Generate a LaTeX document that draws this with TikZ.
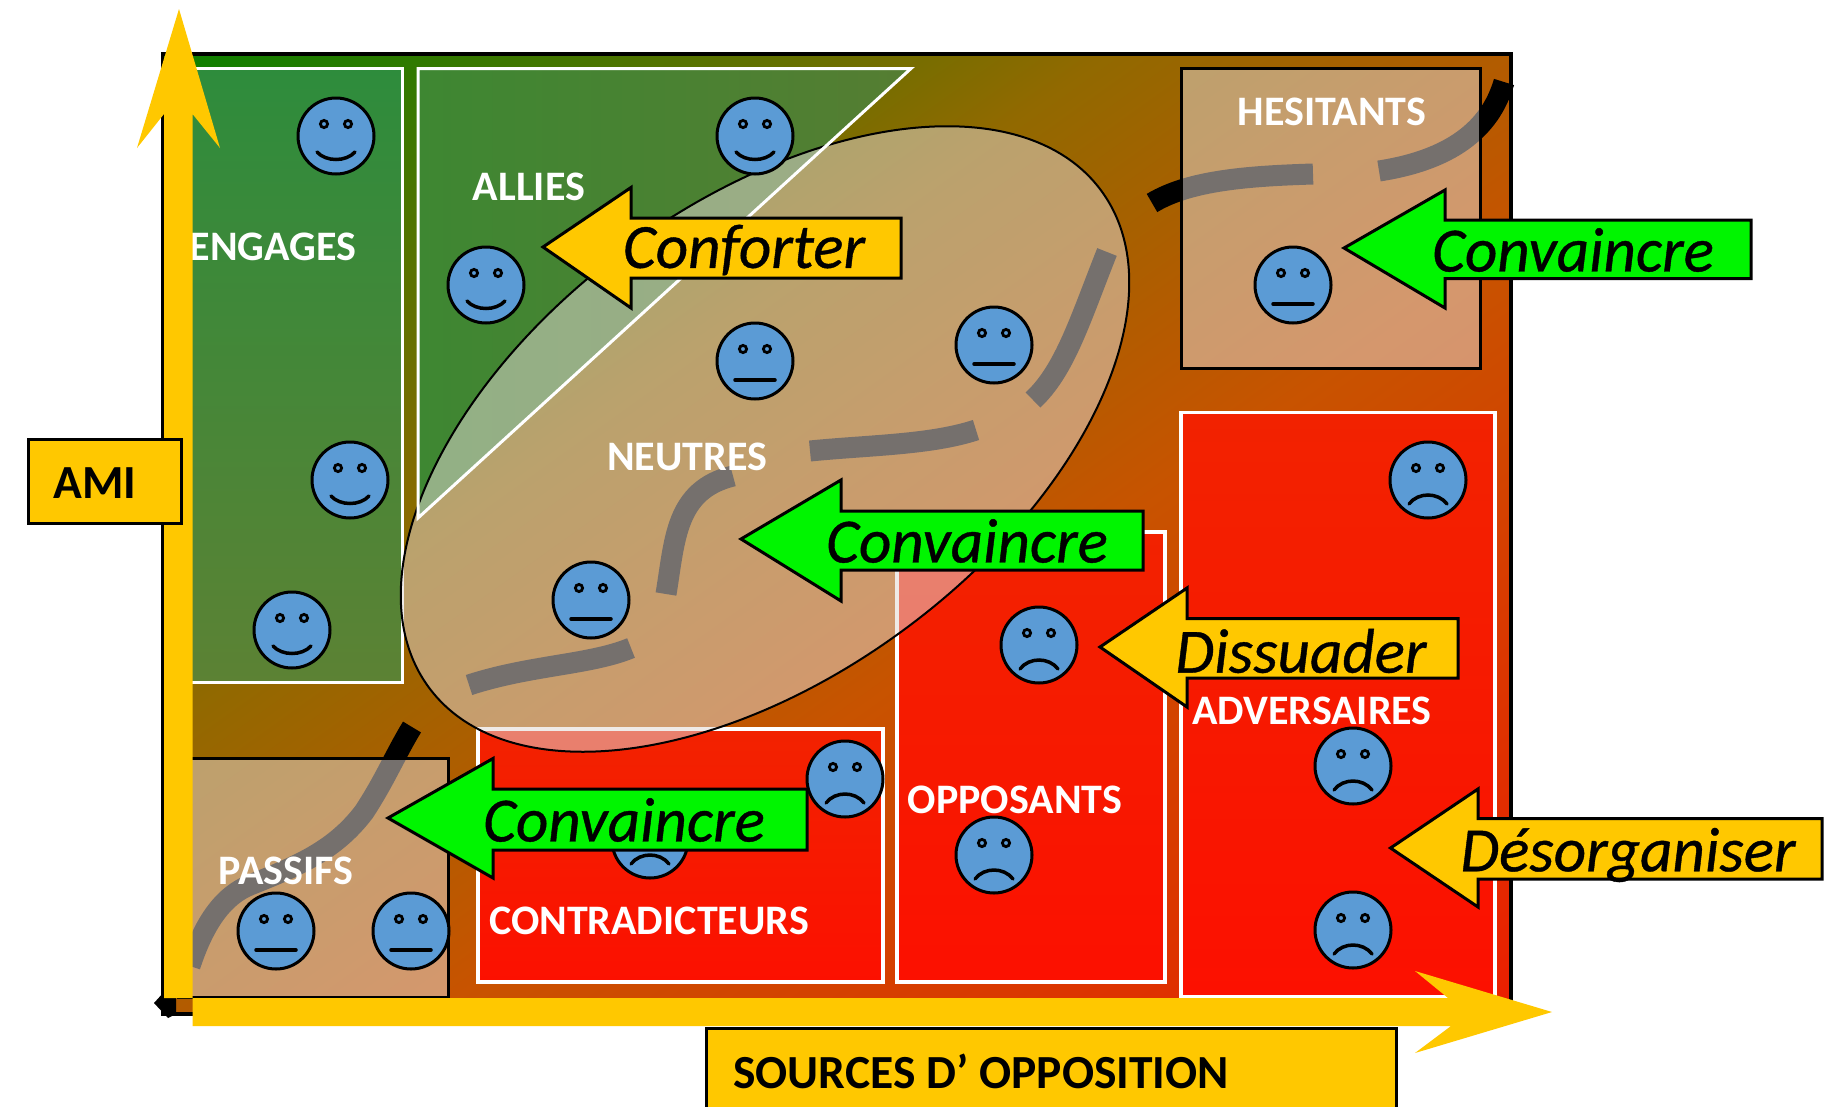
\documentclass[tikz,border=0pt]{standalone}
\usepackage{fontspec}
\setmainfont{Carlito}
\newfontfamily\actionfont{Carlito}[ItalicFeatures={FakeBold=0.6}]
\definecolor{axisgold}{RGB}{255,200,0}
\definecolor{pushgreen}{RGB}{0,245,0}
\definecolor{faceblue}{RGB}{91,155,213}
\definecolor{veil}{RGB}{225,215,210}
\definecolor{engtop}{RGB}{46,140,60}
\definecolor{engbot}{RGB}{92,130,52}
\definecolor{allleft}{RGB}{62,135,50}
\definecolor{allright}{RGB}{85,125,50}
\definecolor{redtop}{RGB}{242,34,0}
\definecolor{redbot}{RGB}{252,16,0}
\pgfdeclarehorizontalshading{bggrad}{100bp}{rgb(0bp)=(.039,.502,0);rgb(25bp)=(.039,.502,0);rgb(42.5bp)=(.569,.412,0);rgb(55bp)=(.784,.325,0);rgb(75bp)=(.922,.118,0);rgb(100bp)=(.922,.118,0)}
\tikzset{
  x=1pt,y=-1pt,
  trail/.style={line width=21pt,black},
  veilpanel/.style={fill=veil,fill opacity=.52,draw=black,line width=3pt},
  redpanel/.style={top color=redtop,bottom color=redbot,draw=white,line width=3.2pt},
  pusharrow/.style={draw=black,line width=3pt,line join=miter},
  axisarrow/.style={fill=axisgold},
  tagbox/.style={fill=axisgold,draw=black,line width=3pt},
  grouplabel/.style={text=white,inner sep=0pt,yshift=-1pt,font=\fontsize{42}{42}\selectfont\bfseries},
  actionlabel/.style={text=black,inner sep=0pt,font=\fontsize{63}{63}\selectfont\actionfont\itshape},
  taglabel/.style={text=black,inner sep=0pt,font=\fontsize{47.5}{47.5}\selectfont\bfseries},
  facedisc/.style={fill=faceblue,draw=black,line width=3pt},
  faceeye/.style={fill=faceblue,draw=black,line width=2.8pt},
  facemouth/.style={draw=black,line width=3.5pt,line cap=round},
  pics/smiley/.style={code={
    \path[facedisc] (0,0) circle[radius=38pt];
    \path[faceeye] (-12,-12) circle[radius=3.6pt] (12,-12) circle[radius=3.6pt];
    \draw[facemouth] (-19,16) .. controls (-10,26) and (10,26) .. (19,16);}},
  pics/level/.style={code={
    \path[facedisc] (0,0) circle[radius=38pt];
    \path[faceeye] (-12,-12) circle[radius=3.6pt] (12,-12) circle[radius=3.6pt];
    \draw[facemouth] (-20,19) -- (20,19);}},
  pics/frowny/.style={code={
    \path[facedisc] (0,0) circle[radius=38pt];
    \path[faceeye] (-12,-12) circle[radius=3.6pt] (12,-12) circle[radius=3.6pt];
    \draw[facemouth] (-19,24) .. controls (-10,12) and (10,12) .. (19,24);}},
}
\begin{document}
\begin{tikzpicture}
\useasboundingbox (0,0) rectangle (1829,1106);
\fill[white] (0,0) rectangle (1829,1106);
\clip (0,0) rectangle (1829,1106);
% background gradient
\begin{scope}
  \clip (162.5,54) rectangle (1511,1014);
  \begin{scope}[transform canvas={rotate around={-54.5:(836,534)}}]
    \shade[shading=bggrad] (54,-966) rectangle (1618,2034);
  \end{scope}
\end{scope}
\draw[black,line width=3.5pt] (162.5,54) rectangle (1511,1014);
% trail, seen black outside and grey through the veils
\draw[trail] (190,966) .. controls (205,920) and (225,895) .. (250,885) .. controls (300,865) and (335,850) .. (364,812) .. controls (385,780) and (395,755) .. (412,727);
\draw[trail] (469,685) .. controls (530,665) and (590,665) .. (631,648);
\draw[trail] (666,594) .. controls (675,540) and (675,490) .. (733,476);
\draw[trail] (810,451) .. controls (870,445) and (930,445) .. (976,430);
\draw[trail] (1033,400) .. controls (1065,370) and (1080,320) .. (1107,252);
\draw[trail] (1152,203) .. controls (1190,180) and (1250,176) .. (1313,174);
\draw[trail] (1379,171) .. controls (1450,160) and (1490,130) .. (1504,82);
% panels
\path[top color=engtop,bottom color=engbot,draw=white,line width=3pt] (178,68.5) rectangle (402,682);
\path[left color=allleft,right color=allright] (418,68.5) -- (911,68.5) -- (418,518) -- cycle;
\path[veilpanel] (1181,68) rectangle (1480.5,368);
\path[veilpanel] (178,758.5) rectangle (448,997);
\path[redpanel] (1181,412.5) rectangle (1495,997);
\path[redpanel] (897,532) rectangle (1165,982);
\path[redpanel] (478,729) rectangle (883,982);
% neutral ellipse
\path[fill=veil,fill opacity=.52,draw=black,line width=2pt,rotate around={36.5:(765,439)}] (765,439) circle[x radius=418pt,y radius=236pt];
\draw[white,line width=3pt] (418,68.5) -- (911,68.5) -- (418,518) -- cycle;
% faces below arrows
\pic at (650,840) {frowny};
% action arrows
\path[pusharrow,fill=axisgold] (543,247) -- (631,187.5) -- (631,218) -- (901,218) -- (901,278) -- (631,278) -- (631,308) -- cycle;
\path[pusharrow,fill=pushgreen] (1344,248) -- (1445,190) -- (1445,220) -- (1751,220) -- (1751,278.5) -- (1445,278.5) -- (1445,308) -- cycle;
\path[pusharrow,fill=pushgreen] (741,539) -- (841,480) -- (841,511) -- (1143,511) -- (1143,570) -- (841,570) -- (841,601) -- cycle;
\path[pusharrow,fill=pushgreen] (388,818) -- (493,758.5) -- (493,789) -- (807,789) -- (807,850) -- (493,850) -- (493,878) -- cycle;
\path[pusharrow,fill=axisgold] (1100,647) -- (1187,588) -- (1187,618.5) -- (1458,618.5) -- (1458,678) -- (1187,678) -- (1187,707) -- cycle;
\path[pusharrow,fill=axisgold] (1390.5,848) -- (1478,789) -- (1478,818.5) -- (1822,818.5) -- (1822,879) -- (1478,879) -- (1478,907) -- cycle;
% faces
\pic at (336,136) {smiley};
\pic at (755,136) {smiley};
\pic at (486,285) {smiley};
\pic at (350,480) {smiley};
\pic at (292,630) {smiley};
\pic at (755,361) {level};
\pic at (994,345) {level};
\pic at (591,600) {level};
\pic at (1293,285) {level};
\pic at (276,931) {level};
\pic at (411,931) {level};
\pic at (1428,480) {frowny};
\pic at (1039,645) {frowny};
\pic at (1353,766) {frowny};
\pic at (994,855) {frowny};
\pic at (1353,930) {frowny};
\pic at (845,779) {frowny};
% labels
\node[grouplabel] (engages) at (273,246) {ENGAGES};
\node[grouplabel] (allies) at (529,186) {ALLIES};
\node[grouplabel] (neutres) at (687,456) {NEUTRES};
\node[grouplabel] (hesitants) at (1332,111) {HESITANTS};
\node[grouplabel] (adversaires) at (1312,710) {ADVERSAIRES};
\node[grouplabel] (opposants) at (1015,799) {OPPOSANTS};
\node[grouplabel] (contradicteurs) at (649,920) {CONTRADICTEURS};
\node[grouplabel] (passifs) at (286,870) {PASSIFS};
\node[actionlabel] (conforter) at (744,250) {Conforter};
\node[actionlabel] (convaincreA) at (1573,250) {Convaincre};
\node[actionlabel] (convaincreB) at (967,541) {Convaincre};
\node[actionlabel] (convaincreC) at (624,820) {Convaincre};
\node[actionlabel] (dissuader) at (1301,651) {Dissuader};
\node[actionlabel] (desorganiser) at (1628,855) {Désorganiser};
% axes
\fill[black] (154,1003) -- (164,992) -- (176,996) -- (176,1014) -- (168,1018) -- cycle;
\path[axisarrow] (164,998) -- (164,114) -- (137,148) -- (179,9) -- (220,148) -- (192.5,114) -- (192.5,998) -- cycle;
\path[axisarrow] (192.5,998) -- (1448,998) -- (1415,971) -- (1552,1012) -- (1415,1053) -- (1451,1026) -- (192.5,1026) -- cycle;
\path[tagbox] (28,439) rectangle (181,523);
\node[taglabel] (ami) at (95,483) {AMI};
\path[tagbox] (706,1028) rectangle (1396.5,1115);
\node[taglabel,anchor=west] (sources) at (733,1071) {SOURCES D’ OPPOSITION};
\end{tikzpicture}
\end{document}
